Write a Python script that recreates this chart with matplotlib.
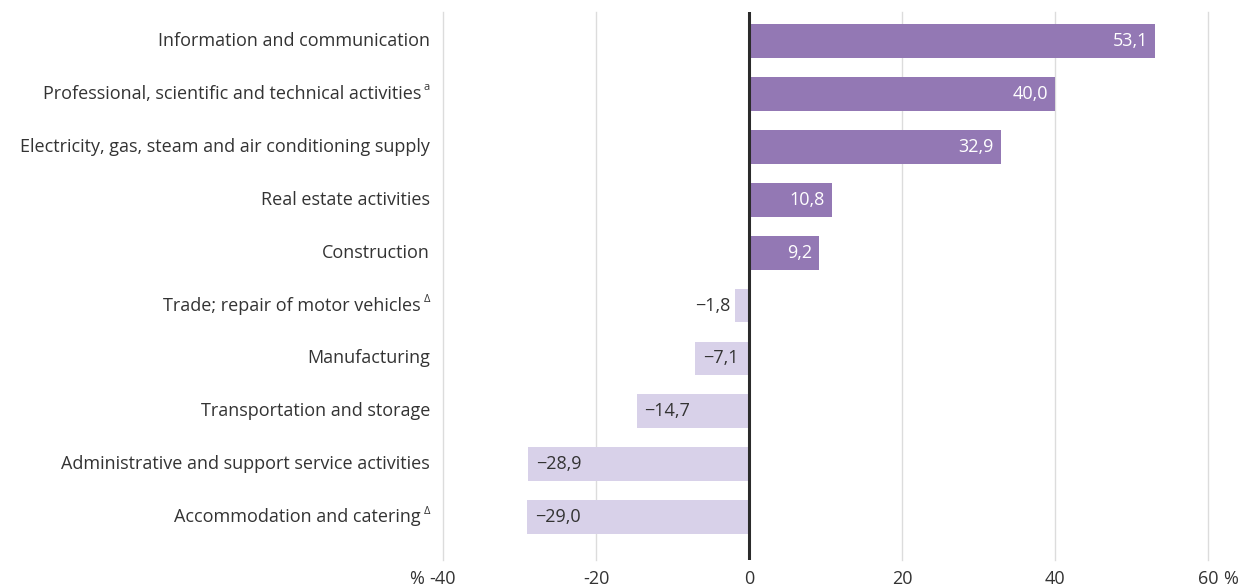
import matplotlib.pyplot as plt
from matplotlib.transforms import offset_copy

plt.rcParams["font.family"] = ["Open Sans", "DejaVu Sans"]

sectors = [
    "Information and communication",
    "Professional, scientific and technical activities",
    "Electricity, gas, steam and air conditioning supply",
    "Real estate activities",
    "Construction",
    "Trade; repair of motor vehicles",
    "Manufacturing",
    "Transportation and storage",
    "Administrative and support service activities",
    "Accommodation and catering",
]
notes = ["", "a", "", "", "", "\u0394", "", "", "", "\u0394"]
values = [53.1, 40.0, 32.9, 10.8, 9.2, -1.8, -7.1, -14.7, -28.9, -29.0]
xticks = [-40, -20, 0, 20, 40, 60]
xticklabels = ["-40", "-20", "0", "20", "40", "60"]

pos_color = "#9378b4"
neg_color = "#d8d1e9"
text_color = "#333333"
fs = 13

fig = plt.figure(figsize=(12.39, 5.88), dpi=100)
ax = fig.add_axes([443 / 1239, 28 / 588, (1208 - 443) / 1239, (576 - 28) / 588])

y = list(range(len(values)))
colors = [pos_color if v > 0 else neg_color for v in values]
ax.barh(y, values, height=0.64, color=colors, zorder=2)

ax.set_xlim(-40, 60)
ax.set_ylim(9.81, -0.55)

for xt in xticks:
    if xt != 0:
        ax.axvline(xt, color="#dcdcdc", lw=1, zorder=0, clip_on=False)
ax.axvline(0, color="#2b2b2b", lw=2.2, zorder=3)

for s in ax.spines.values():
    s.set_visible(False)
ax.set_yticks([])
ax.set_xticks(xticks)
ax.set_xticklabels(xticklabels, fontsize=fs, color=text_color)
ax.tick_params(axis="x", length=0, pad=7)

# percent signs beside the end ticks, aligned with the tick labels
ax.text(0, 0, "%", transform=offset_copy(ax.transAxes, fig=fig, x=-19, y=-9.72, units="dots"),
        ha="right", va="top", fontsize=fs, color=text_color)
ax.text(1, 0, "%", transform=offset_copy(ax.transAxes, fig=fig, x=15, y=-9.72, units="dots"),
        ha="left", va="top", fontsize=fs, color=text_color)

# value labels
for yi, v in zip(y, values):
    lab = f"{v:.1f}".replace(".", ",").replace("-", "\u2212")
    if v > 0:
        ax.text(v, yi, lab, ha="right", va="center", color="white", fontsize=fs,
                transform=offset_copy(ax.transData, fig=fig, x=-7, y=0, units="dots"), zorder=4)
    elif v > -5:
        ax.text(v, yi, lab, ha="right", va="center", color=text_color, fontsize=fs,
                transform=offset_copy(ax.transData, fig=fig, x=-5, y=0, units="dots"), zorder=4)
    else:
        ax.text(v, yi, lab, ha="left", va="center", color=text_color, fontsize=fs,
                transform=offset_copy(ax.transData, fig=fig, x=8, y=0, units="dots"), zorder=4)

# category labels
for yi, name, note in zip(y, sectors, notes):
    if note:
        ax.text(-40, yi, name, ha="right", va="center", color=text_color, fontsize=fs,
                transform=offset_copy(ax.transData, fig=fig, x=-22, y=0, units="dots"))
        ax.text(-40, yi, note, ha="right", va="center", color=text_color, fontsize=8,
                transform=offset_copy(ax.transData, fig=fig, x=-13, y=6, units="dots"))
    else:
        ax.text(-40, yi, name, ha="right", va="center", color=text_color, fontsize=fs,
                transform=offset_copy(ax.transData, fig=fig, x=-13, y=0, units="dots"))

plt.savefig("out.png", dpi=100)
